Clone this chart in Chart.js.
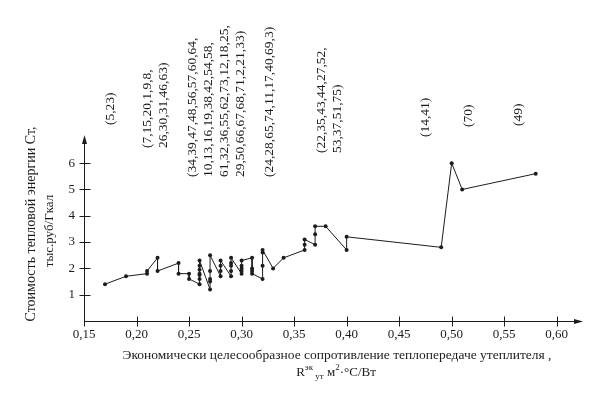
<!DOCTYPE html>
<html lang="ru">
<head>
<meta charset="UTF-8">
<title>Стоимость тепловой энергии</title>
<script src="https://cdn.jsdelivr.net/npm/chart.js"></script>
<style>
    body { margin: 0; background: #fff; }
    #wrap { width: 597px; height: 395px; }
</style>
</head>
<body>
<div id="wrap"><canvas id="chart" width="597" height="395"></canvas></div>
<script>
// R ут (м2·°C/Вт) и стоимость Ст (тыс.руб/Гкал), в порядке обхода линии
const resistance = [0.17, 0.19, 0.21, 0.21, 0.22, 0.22, 0.24, 0.24, 0.25, 0.25,
    0.26, 0.26, 0.26, 0.26, 0.26, 0.26, 0.26,
    0.27, 0.27, 0.27, 0.27, 0.27,
    0.28, 0.28, 0.28, 0.28,
    0.29, 0.29, 0.29, 0.29, 0.29,
    0.30, 0.30, 0.30, 0.30, 0.30,
    0.31, 0.31, 0.31, 0.31,
    0.32, 0.32, 0.32, 0.32,
    0.33, 0.34, 0.36, 0.36, 0.36, 0.37, 0.37, 0.37, 0.38,
    0.40, 0.40, 0.49, 0.50, 0.51, 0.58];
const cost = [1.4, 1.7, 1.8, 1.9, 2.4, 1.9, 2.2, 1.8, 1.8, 1.6,
    1.4, 1.6, 1.75, 1.8, 1.95, 2.1, 2.3,
    1.2, 1.5, 1.6, 1.9, 2.5,
    1.7, 1.9, 2.1, 2.3,
    1.7, 1.9, 2.1, 2.2, 2.4,
    1.8, 1.9, 2.0, 2.1, 2.3,
    2.4, 2.0, 1.9, 1.8,
    1.6, 2.1, 2.6, 2.7,
    2.0, 2.4, 2.7, 2.9, 3.1, 2.9, 3.3, 3.6, 3.6,
    2.7, 3.2, 2.8, 6.0, 5.0, 5.6];

const xTicks = [0.15, 0.20, 0.25, 0.30, 0.35, 0.40, 0.45, 0.50, 0.55, 0.60];
const yTicks = [1, 2, 3, 4, 5, 6];

// номера объектов над группами точек
const groupLines = [
    ['(5,23)'],
    ['(7,15,20,1,9,8,', '26,30,31,46,63)'],
    ['(34,39,47,48,56,57,60,64,', '10,13,16,19,38,42,54,58,', '61,32,36,55,62,73,12,18,25,', '29,50,66,67,68,71,2,21,33)'],
    ['(24,28,65,74,11,17,40,69,3)'],
    ['(22,35,43,44,27,52,', '53,37,51,75)'],
    ['(14,41)'],
    ['(70)'],
    ['(49)']
];
const groupX = [0.175, 0.218, 0.276, 0.327, 0.384, 0.475, 0.516, 0.564];
const groupBase = [125, 148, 177, 177, 153, 137, 127, 126];

const yTitle = ['Стоимость тепловой энергии Ст,', 'тыс.руб/Гкал'];
const xTitle = 'Экономически целесообразное сопротивление теплопередаче утеплителя ,';

const INK = '#1c1c1c';
const SERIF = '"Liberation Serif", "Times New Roman", serif';

const axesPlugin = {
    id: 'axes',
    afterDraw(chart) {
        const ctx = chart.ctx;
        const a = chart.chartArea;
        const xs = chart.scales.x, ys = chart.scales.y;
        const x0 = Math.round(a.left) + 0.5, y0 = Math.round(a.bottom) + 0.5;
        ctx.save();
        ctx.strokeStyle = INK;
        ctx.fillStyle = INK;
        ctx.lineWidth = 1;

        // оси
        ctx.beginPath();
        ctx.moveTo(x0, y0); ctx.lineTo(x0, a.top + 4);
        ctx.moveTo(x0, y0); ctx.lineTo(a.right - 4, y0);
        ctx.stroke();
        ctx.beginPath();
        ctx.moveTo(x0, a.top); ctx.lineTo(x0 - 2.5, a.top + 9); ctx.lineTo(x0 + 2.5, a.top + 9);
        ctx.closePath(); ctx.fill();
        ctx.beginPath();
        ctx.moveTo(a.right, y0); ctx.lineTo(a.right - 9, y0 - 2.5); ctx.lineTo(a.right - 9, y0 + 2.5);
        ctx.closePath(); ctx.fill();

        // засечки
        ctx.beginPath();
        xTicks.forEach(v => {
            const px = Math.round(xs.getPixelForValue(v)) + 0.5;
            ctx.moveTo(px, y0 - 5); ctx.lineTo(px, y0 + 5);
        });
        yTicks.forEach(v => {
            const py = Math.round(ys.getPixelForValue(v)) + 0.5;
            ctx.moveTo(x0 - 5, py); ctx.lineTo(x0 + 6, py);
        });
        ctx.stroke();

        // подписи групп
        ctx.font = '13.5px ' + SERIF;
        ctx.textAlign = 'left';
        ctx.textBaseline = 'middle';
        groupLines.forEach((lines, i) => {
            const cx = xs.getPixelForValue(groupX[i]);
            lines.forEach((t, j) => {
                ctx.save();
                ctx.translate(cx + (j - (lines.length - 1) / 2) * 16, groupBase[i]);
                ctx.rotate(-Math.PI / 2);
                ctx.fillText(t, 0, 0);
                ctx.restore();
            });
        });

        // название оси Y
        ctx.textAlign = 'center';
        [[31, 224, 14], [50, 231, 13]].forEach(([lx, ly, fs], j) => {
            ctx.save();
            ctx.font = fs + 'px ' + SERIF;
            ctx.translate(lx, ly);
            ctx.rotate(-Math.PI / 2);
            ctx.fillText(yTitle[j], 0, 0);
            ctx.restore();
        });

        // название оси X
        ctx.font = '13.5px ' + SERIF;
        ctx.fillText(xTitle, 337, 355);
        const parts = [
            { t: 'R', size: 13, dy: 0 },
            { t: 'эк', size: 9, dy: -5 },
            { t: ' ут', size: 9, dy: 4 },
            { t: ' м', size: 13, dy: 0 },
            { t: '2', size: 9, dy: -5 },
            { t: '·°C/Вт', size: 13, dy: 0 }
        ];
        let total = 0;
        parts.forEach(p => { ctx.font = p.size + 'px ' + SERIF; p.w = ctx.measureText(p.t).width; total += p.w; });
        let px = 336 - total / 2;
        ctx.textAlign = 'left';
        parts.forEach(p => {
            ctx.font = p.size + 'px ' + SERIF;
            ctx.fillText(p.t, px, 373 + p.dy);
            px += p.w;
        });
        ctx.restore();
    }
};

new Chart(document.getElementById('chart'), {
    type: 'scatter',
    data: {
        datasets: [{
            data: resistance.map((r, i) => ({ x: r, y: cost[i] })),
            showLine: true,
            borderColor: INK,
            borderWidth: 1,
            backgroundColor: INK,
            pointBackgroundColor: INK,
            pointBorderWidth: 0,
            pointRadius: 2,
            tension: 0
        }]
    },
    options: {
        responsive: false,
        devicePixelRatio: 1,
        animation: false,
        layout: { padding: { left: 0, top: 135, right: 14, bottom: 0 } },
        plugins: { legend: { display: false }, tooltip: { enabled: false } },
        scales: {
            x: {
                type: 'linear',
                min: 0.15,
                max: 0.625,
                grid: { display: false, drawTicks: false },
                border: { display: false },
                afterBuildTicks: s => { s.ticks = xTicks.map(v => ({ value: v })); },
                afterFit: s => { s.height = 74; },
                ticks: {
                    autoSkip: false,
                    maxRotation: 0,
                    padding: 6,
                    color: INK,
                    font: { family: SERIF, size: 13 },
                    callback: v => v.toFixed(2).replace('.', ',')
                }
            },
            y: {
                min: 0,
                max: 7.07,
                grid: { display: false, drawTicks: false },
                border: { display: false },
                afterBuildTicks: s => { s.ticks = yTicks.map(v => ({ value: v })); },
                afterFit: s => { s.width = 84; },
                ticks: {
                    autoSkip: false,
                    padding: 9,
                    color: INK,
                    font: { family: SERIF, size: 13 },
                    callback: v => String(v)
                }
            }
        }
    },
    plugins: [axesPlugin]
});
</script>
</body>
</html>
